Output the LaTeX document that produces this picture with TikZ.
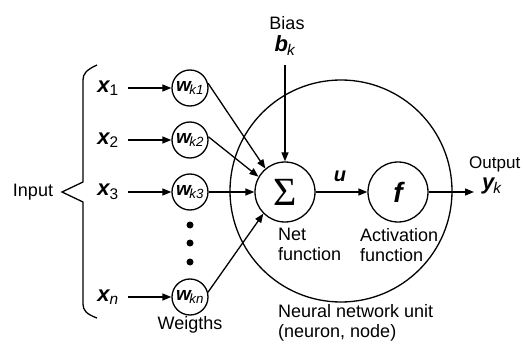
\documentclass[tikz,border=0pt]{standalone}
\usepackage{fontspec}
\setmainfont{Liberation Sans}
\newfontfamily\sigfont{Liberation Serif}
\usetikzlibrary{arrows.meta}
\begin{document}
\begin{tikzpicture}[x=1pt,y=-1pt,
  txt/.style={font=\fontsize{18}{20}\selectfont, inner sep=0pt, align=left},
  xin/.style={font=\fontsize{22}{24}\selectfont\bfseries\itshape, inner sep=0pt},
  wcirc/.style={circle, draw, line width=1.3pt, minimum size=36pt, inner sep=0pt, font=\fontsize{19}{20}\selectfont\bfseries\itshape},
  fcirc/.style={circle, draw, line width=1.3pt, minimum size=60pt, inner sep=0pt},
  arr/.style={line width=1.3pt, -{Triangle[length=9pt,width=7pt]}},
  dot/.style={circle, fill, minimum size=7pt, inner sep=0pt}]
\useasboundingbox (0,0) rectangle (523,345);
% big neuron circle
\node[circle, draw, line width=1.3pt, minimum size=222pt] (unit) at (341,191) {};
% inputs
\node[txt] (input) at (33,192) {Input};
\draw[line width=1.3pt] (97,65) .. controls (86,70) and (83,74) .. (83,80) -- (83,182) -- (62,192) -- (83,202) -- (83,304) .. controls (83,310) and (86,314) .. (97,318);
\node[xin] (x1) at (108,88) {x\textsubscript{\normalfont\mdseries\upshape 1}};
\node[xin] (x2) at (108,140) {x\textsubscript{\normalfont\mdseries\upshape 2}};
\node[xin] (x3) at (108,192) {x\textsubscript{\normalfont\mdseries\upshape 3}};
\node[xin] (xn) at (108,297) {x\textsubscript{\normalfont\mdseries\itshape n}};
\node[wcirc] (w1) at (190,88) {w\kern-1.5pt\textsubscript{\mdseries k1}};
\node[wcirc] (w2) at (190,140) {w\kern-1.5pt\textsubscript{\mdseries k2}};
\node[wcirc] (w3) at (190,192) {w\kern-1.5pt\textsubscript{\mdseries k3}};
\node[wcirc] (wn) at (190,297) {w\kern-1.5pt\textsubscript{\mdseries kn}};
\node[dot] (d1) at (190,225) {};
\node[dot] (d2) at (190,243) {};
\node[dot] (d3) at (190,262) {};
\node[txt] (weights) at (190,325) {Weigths};
\coordinate (a1) at (128,88);
\coordinate (a2) at (128,140);
\coordinate (a3) at (128,192);
\coordinate (an) at (128,297);
\draw[arr] (a1) -- (w1);
\draw[arr] (a2) -- (w2);
\draw[arr] (a3) -- (w3);
\draw[arr] (an) -- (wn);
% sum and activation
\node[fcirc, font=\fontsize{40}{42}\selectfont\sigfont] (sum) at (285,192) {\raisebox{-1pt}{Σ}};
\node[fcirc, font=\fontsize{28}{30}\selectfont\bfseries\itshape] (f) at (398,192) {f};
\draw[arr] (w1.15) -- (sum.130);
\draw[arr] (w2.10) -- (sum.150);
\draw[arr] (w3) -- (sum);
\draw[arr] (wn.15) -- (sum.225);
% bias
\node[txt] (bias) at (287,23) {Bias};
\node[xin] (bk) at (285,46) {b\kern-1pt\textsubscript{\mdseries k}};
\coordinate (bs) at (285,65);
\draw[arr] (bs) -- (sum);
% u
\node[xin, font=\fontsize{20}{22}\selectfont\bfseries\itshape] (u) at (340,176) {u};
\draw[arr] (sum) -- (f);
% output
\coordinate (oe) at (474,192);
\draw[arr] (f) -- (oe);
\node[txt, anchor=west, font=\fontsize{17}{19}\selectfont] (out) at (469,164) {Output};
\node[xin, anchor=west] (yk) at (482,186) {y\kern-1pt\textsubscript{\mdseries k}};
% labels
\node[txt, anchor=north west, font=\fontsize{18}{20}\selectfont] (net) at (278,228) {Net\\function};
\node[txt, anchor=north west, font=\fontsize{18}{20}\selectfont] (act) at (360,228) {Activation\\function};
\node[txt, anchor=north west, font=\fontsize{18}{20}\selectfont] (nn) at (278,304) {Neural network unit\\(neuron, node)};
\end{tikzpicture}
\end{document}
